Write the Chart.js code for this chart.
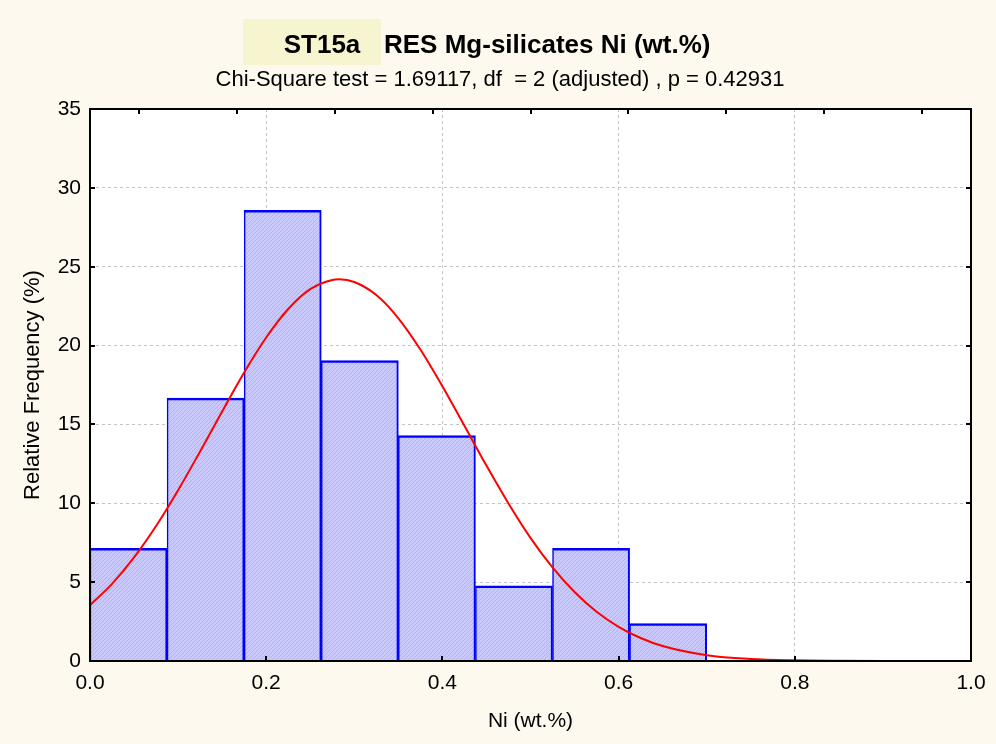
<!DOCTYPE html>
<html>
<head>
<meta charset="utf-8">
<script src="https://cdn.jsdelivr.net/npm/chart.js@4/dist/chart.umd.min.js"></script>
<style>
  html, body { margin: 0; padding: 0; background: #fdf9ef; }
  #wrap { width: 996px; height: 744px; position: relative; }
  canvas { display: block; }
</style>
</head>
<body>
<div id="wrap"><canvas id="c" width="996" height="744"></canvas></div>
<script>
// ---- Data ----
const binEdges = [0, 0.0875, 0.175, 0.2625, 0.35, 0.4375, 0.525, 0.6125, 0.7];
const relFreq  = [7.14, 16.67, 28.57, 19.05, 14.29, 4.76, 7.14, 2.38];

const curveX = [0, 0.025, 0.05, 0.075, 0.1, 0.125, 0.15, 0.175, 0.2, 0.225, 0.25, 0.275, 0.283,
                0.3, 0.325, 0.35, 0.375, 0.4, 0.425, 0.45, 0.475, 0.5, 0.525, 0.55, 0.575, 0.6,
                0.625, 0.65, 0.7, 0.75, 0.8, 0.85, 0.9, 0.95, 1.0];
const curveY = [3.54, 4.89, 6.57, 8.56, 10.83, 13.29, 15.82, 18.29, 20.51, 22.32, 23.58, 24.16, 24.2,
                24.03, 23.20, 21.73, 19.75, 17.42, 14.91, 12.39, 9.99, 7.81, 5.93, 4.37, 3.12, 2.17,
                1.46, 0.95, 0.37, 0.13, 0.04, 0.01, 0, 0, 0];

const xTickLabels = ['0.0', '0.2', '0.4', '0.6', '0.8', '1.0'];
const topTickValues = [0.0556, 0.1667, 0.2778, 0.3889, 0.5, 0.6111, 0.7222, 0.8333, 0.9444];

const titleLabel = 'ST15a';
const titleText = 'RES Mg-silicates Ni (wt.%)';
const subtitleText = 'Chi-Square test = 1.69117, df  = 2 (adjusted) , p = 0.42931';
const xTitle = 'Ni (wt.%)';
const yTitle = 'Relative Frequency (%)';

// ---- Build datasets ----
const barPoints = relFreq.map((v, i) => ({ x: (binEdges[i] + binEdges[i + 1]) / 2, y: v }));
const curvePoints = curveX.map((x, i) => ({ x: x, y: curveY[i] }));

const FONT = '"Liberation Sans", Arial, Helvetica, sans-serif';
Chart.defaults.font.family = FONT;
Chart.defaults.color = '#000';

// hatched fill pattern
const pc = document.createElement('canvas');
pc.width = 4; pc.height = 4;
const pctx = pc.getContext('2d');
pctx.fillStyle = '#c9c9fb';
pctx.fillRect(0, 0, 4, 4);
pctx.strokeStyle = '#b2b2f0';
pctx.lineWidth = 1;
pctx.beginPath(); pctx.moveTo(-1, 5); pctx.lineTo(5, -1); pctx.stroke();
const ctxMain = document.getElementById('c').getContext('2d');
const hatch = ctxMain.createPattern(pc, 'repeat');

const framePlugin = {
  id: 'frame',
  beforeDraw(chart) {
    const { ctx, chartArea: a } = chart;
    ctx.save();
    ctx.fillStyle = '#ffffff';
    ctx.fillRect(a.left, a.top, a.right - a.left, a.bottom - a.top);

    // Title row
    ctx.fillStyle = '#f6f5cf';
    ctx.fillRect(243, 19, 138, 46);
    ctx.fillStyle = '#000';
    ctx.textBaseline = 'alphabetic';
    ctx.font = 'bold 26px ' + FONT;
    ctx.textAlign = 'center';
    ctx.fillText(titleLabel, 322, 53);
    ctx.textAlign = 'left';
    ctx.fillText(titleText, 384, 53);

    ctx.font = '22px ' + FONT;
    ctx.textAlign = 'center';
    ctx.fillText(subtitleText, 500, 86);
    ctx.restore();
  },
  afterDraw(chart) {
    const { ctx, chartArea: a, scales } = chart;
    ctx.save();
    ctx.strokeStyle = '#000';
    ctx.lineWidth = 2;
    ctx.strokeRect(a.left, a.top, a.right - a.left, a.bottom - a.top);
    const L = 5;
    ctx.beginPath();
    scales.y.ticks.forEach(t => {
      const py = Math.round(scales.y.getPixelForValue(t.value));
      if (t.value <= 0 || t.value >= 35) return;
      ctx.moveTo(a.left, py); ctx.lineTo(a.left + L, py);
      ctx.moveTo(a.right, py); ctx.lineTo(a.right - L, py);
    });
    scales.x.ticks.forEach(t => {
      const px = Math.round(scales.x.getPixelForValue(t.value));
      if (t.value <= 0 || t.value >= 1) return;
      ctx.moveTo(px, a.bottom); ctx.lineTo(px, a.bottom - L);
    });
    topTickValues.forEach(v => {
      const px = Math.round(scales.x.getPixelForValue(v));
      ctx.moveTo(px, a.top); ctx.lineTo(px, a.top + L);
    });
    ctx.stroke();
    ctx.restore();
  }
};

const gridColor = '#c4c4c4';

new Chart(ctxMain, {
  type: 'bar',
  data: {
    datasets: [
      {
        type: 'line',
        data: curvePoints,
        borderColor: '#ff0000',
        borderWidth: 2,
        pointRadius: 0,
        fill: false,
        cubicInterpolationMode: 'monotone',
        order: 0
      },
      {
        type: 'bar',
        data: barPoints,
        backgroundColor: hatch,
        borderColor: '#0000ff',
        borderWidth: { top: 2.5, left: 1.5, right: 2, bottom: 0 },
        borderSkipped: false,
        barPercentage: 1,
        categoryPercentage: 1,
        order: 1
      }
    ]
  },
  options: {
    responsive: false,
    devicePixelRatio: 1,
    animation: false,
    layout: { padding: { top: 109, right: 25, left: 0, bottom: 0 } },
    plugins: { legend: { display: false }, tooltip: { enabled: false }, title: { display: false } },
    scales: {
      x: {
        type: 'linear',
        min: 0, max: 1,
        offset: false,
        ticks: {
          stepSize: 0.2,
          maxRotation: 0,
          padding: 10,
          font: { size: 21 },
          color: '#000',
          callback: (v) => xTickLabels[Math.round(v / 0.2)]
        },
        grid: { color: gridColor, drawTicks: false, lineWidth: 1, offset: false },
        border: { display: false, dash: [3, 3] },
        title: { display: true, text: xTitle, font: { size: 21 }, color: '#000', padding: { top: 0, bottom: 10 } },
        afterFit: (s) => { s.height = 83; }
      },
      y: {
        min: 0, max: 35,
        ticks: { stepSize: 5, padding: 9, font: { size: 21 }, color: '#000' },
        grid: { color: gridColor, drawTicks: false, lineWidth: 1 },
        border: { display: false, dash: [3, 3] },
        title: { display: true, text: yTitle, font: { size: 22 }, color: '#000', padding: { top: 20, bottom: 0 } },
        afterFit: (s) => { s.width = 90; }
      }
    }
  },
  plugins: [framePlugin]
});
</script>
</body>
</html>
